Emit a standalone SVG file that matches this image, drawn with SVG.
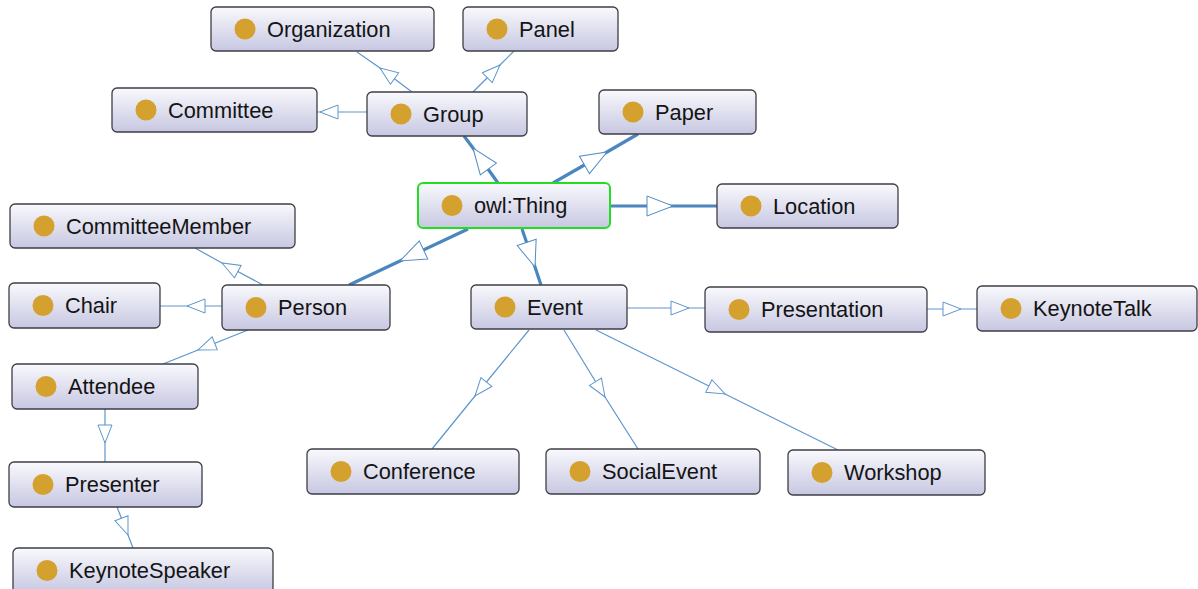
<svg xmlns="http://www.w3.org/2000/svg" width="1198" height="589" viewBox="0 0 1198 589">
<defs>
<linearGradient id="boxg" x1="0" y1="0" x2="0" y2="1">
<stop offset="0" stop-color="#f9f9fd"/>
<stop offset="1" stop-color="#c7c7e2"/>
</linearGradient>
<marker id="thin" viewBox="0 0 20 16" refX="19" refY="8" markerWidth="20" markerHeight="16" markerUnits="userSpaceOnUse" orient="auto">
<path d="M1,1 L19,8 L1,15 Z" fill="#ffffff" stroke="#5e96cc" stroke-width="1"/>
</marker>
<marker id="thick" viewBox="0 0 28 22" refX="27" refY="11" markerWidth="28" markerHeight="22" markerUnits="userSpaceOnUse" orient="auto">
<path d="M1,1 L27,11 L1,21 Z" fill="#ffffff" stroke="#4f8bc4" stroke-width="1"/>
</marker>
</defs>
<style>
.box{fill:url(#boxg);stroke:#3e3e46;stroke-width:1.3}
.root{fill:url(#boxg);stroke:#22dd22;stroke-width:2}
.dot{fill:#d4a02e}
.lbl{font-family:"Liberation Sans",Arial,sans-serif;font-size:21.8px;fill:#141414}
.e1{fill:none;stroke:#5e96cc;stroke-width:1.2;marker-mid:url(#thin)}
.e3{fill:none;stroke:#4a86bf;stroke-width:3.2;marker-mid:url(#thick)}
</style>
<rect width="1198" height="589" fill="#ffffff"/>
<g id="connectors">
<path class="e3" d="M498,183 L473,148 L464,136"/>
<path class="e3" d="M553,183 L607,152 L638,134"/>
<path class="e3" d="M610,206 L673,206 L717,206"/>
<path class="e3" d="M468,229 L400,261 L349,285"/>
<path class="e3" d="M522,229 L535,267 L541,285"/>
<path class="e1" d="M412,92 L380,68 L357,52"/>
<path class="e1" d="M473,92 L500,65 L514,51"/>
<path class="e1" d="M367,112 L320,112 L317,112"/>
<path class="e1" d="M263,285 L222,263 L195,248"/>
<path class="e1" d="M222,306 L187,306 L160,306"/>
<path class="e1" d="M248,330 L198,350 L163,364"/>
<path class="e1" d="M105,409 L105,443 L105,462"/>
<path class="e1" d="M117,507 L128,535 L133,548"/>
<path class="e1" d="M627,308 L689,308 L705,308"/>
<path class="e1" d="M927,309 L961,309 L977,309"/>
<path class="e1" d="M529,330 L475,396 L432,449"/>
<path class="e1" d="M564,330 L605,397 L638,449"/>
<path class="e1" d="M596,330 L725,394 L838,450"/>
</g>
<g id="node-organization"><rect class="box" x="211" y="7" width="223" height="44" rx="5"/><circle class="dot" cx="245" cy="29" r="10.5"/><text class="lbl" x="267" y="36.5">Organization</text></g>
<g id="node-panel"><rect class="box" x="463" y="7" width="155" height="44" rx="5"/><circle class="dot" cx="497" cy="29" r="10.5"/><text class="lbl" x="519" y="36.5">Panel</text></g>
<g id="node-committee"><rect class="box" x="112" y="88" width="205" height="44" rx="5"/><circle class="dot" cx="146" cy="110" r="10.5"/><text class="lbl" x="168" y="117.5">Committee</text></g>
<g id="node-group"><rect class="box" x="367" y="92" width="160" height="44" rx="5"/><circle class="dot" cx="401" cy="114" r="10.5"/><text class="lbl" x="423" y="121.5">Group</text></g>
<g id="node-paper"><rect class="box" x="599" y="90" width="157" height="44" rx="5"/><circle class="dot" cx="633" cy="112" r="10.5"/><text class="lbl" x="655" y="119.5">Paper</text></g>
<g id="node-thing"><rect class="root" x="418" y="183" width="192" height="45" rx="5"/><circle class="dot" cx="452" cy="205.5" r="10.5"/><text class="lbl" x="474" y="213">owl:Thing</text></g>
<g id="node-location"><rect class="box" x="717" y="184" width="181" height="44" rx="5"/><circle class="dot" cx="751" cy="206" r="10.5"/><text class="lbl" x="773" y="213.5">Location</text></g>
<g id="node-committeemember"><rect class="box" x="10" y="204" width="285" height="44" rx="5"/><circle class="dot" cx="44" cy="226" r="10.5"/><text class="lbl" x="66" y="233.5">CommitteeMember</text></g>
<g id="node-chair"><rect class="box" x="9" y="283" width="151" height="45" rx="5"/><circle class="dot" cx="43" cy="305.5" r="10.5"/><text class="lbl" x="65" y="313">Chair</text></g>
<g id="node-person"><rect class="box" x="222" y="285" width="168" height="45" rx="5"/><circle class="dot" cx="256" cy="307.5" r="10.5"/><text class="lbl" x="278" y="315">Person</text></g>
<g id="node-event"><rect class="box" x="471" y="285" width="156" height="44" rx="5"/><circle class="dot" cx="505" cy="307" r="10.5"/><text class="lbl" x="527" y="314.5">Event</text></g>
<g id="node-presentation"><rect class="box" x="705" y="287" width="222" height="45" rx="5"/><circle class="dot" cx="739" cy="309.5" r="10.5"/><text class="lbl" x="761" y="317">Presentation</text></g>
<g id="node-keynotetalk"><rect class="box" x="977" y="286" width="220" height="45" rx="5"/><circle class="dot" cx="1011" cy="308.5" r="10.5"/><text class="lbl" x="1033" y="316">KeynoteTalk</text></g>
<g id="node-attendee"><rect class="box" x="12" y="364" width="186" height="45" rx="5"/><circle class="dot" cx="46" cy="386.5" r="10.5"/><text class="lbl" x="68" y="394">Attendee</text></g>
<g id="node-presenter"><rect class="box" x="9" y="462" width="193" height="45" rx="5"/><circle class="dot" cx="43" cy="484.5" r="10.5"/><text class="lbl" x="65" y="492">Presenter</text></g>
<g id="node-keynotespeaker"><rect class="box" x="13" y="548" width="260" height="45" rx="5"/><circle class="dot" cx="47" cy="570.5" r="10.5"/><text class="lbl" x="69" y="578">KeynoteSpeaker</text></g>
<g id="node-conference"><rect class="box" x="307" y="449" width="212" height="45" rx="5"/><circle class="dot" cx="341" cy="471.5" r="10.5"/><text class="lbl" x="363" y="479">Conference</text></g>
<g id="node-socialevent"><rect class="box" x="546" y="449" width="214" height="45" rx="5"/><circle class="dot" cx="580" cy="471.5" r="10.5"/><text class="lbl" x="602" y="479">SocialEvent</text></g>
<g id="node-workshop"><rect class="box" x="788" y="450" width="197" height="45" rx="5"/><circle class="dot" cx="822" cy="472.5" r="10.5"/><text class="lbl" x="844" y="480">Workshop</text></g>
</svg>
